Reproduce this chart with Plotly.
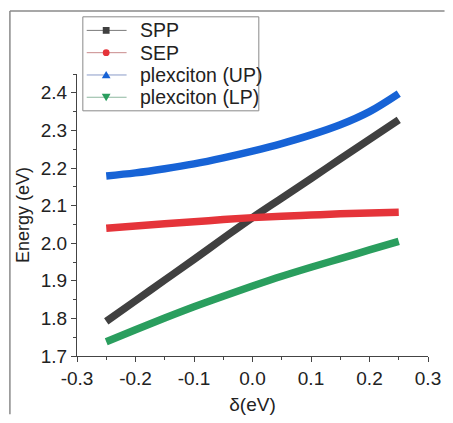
import plotly.graph_objects as go

delta = [-0.25, -0.2, -0.15, -0.1, -0.05, 0.0, 0.05, 0.1, 0.15, 0.2, 0.25]
spp = [1.792, 1.847, 1.902, 1.957, 2.013, 2.068, 2.120, 2.172, 2.224, 2.276, 2.328]
sep = [2.040, 2.046, 2.052, 2.057, 2.063, 2.068, 2.072, 2.075, 2.078, 2.080, 2.082]
up = [2.179, 2.187, 2.198, 2.211, 2.227, 2.245, 2.265, 2.288, 2.315, 2.350, 2.398]
lp = [1.738, 1.770, 1.801, 1.831, 1.859, 1.886, 1.912, 1.936, 1.959, 1.982, 2.005]

names = ["SPP", "SEP", "plexciton (UP)", "plexciton (LP)"]
series = [spp, sep, up, lp]
colors = ["#404040", "#e5343a", "#1763d6", "#2a9e5e"]
leg_lines = ["#7a7a7a", "#c98a8c", "#8a9cc8", "#8fb8a0"]
symbols = ["square", "circle", "triangle-up", "triangle-down"]

x_ticks = [-0.3, -0.2, -0.1, 0.0, 0.1, 0.2, 0.3]
x_ticktext = ["-0.3", "-0.2", "-0.1", "0.0", "0.1", "0.2", "0.3"]
y_ticks = [1.7, 1.8, 1.9, 2.0, 2.1, 2.2, 2.3, 2.4]
y_ticktext = ["1.7", "1.8", "1.9", "2.0", "2.1", "2.2", "2.3", "2.4"]

FONT = "Liberation Sans, Arial, sans-serif"

W, H = 453, 423
L, R, T, B = 77, 15, 74, 58
pw, ph = W - L - R, H - T - B

def px_x(p):
    return (p - L) / pw

def px_y(p):
    return (H - B - p) / ph

fig = go.Figure()
for name, ys, c in zip(names, series, colors):
    fig.add_trace(go.Scatter(x=delta, y=ys, mode="lines", name=name,
                             line=dict(color=c, width=7.5, shape="spline"),
                             showlegend=False))

# outer frame (top and left edges)
fig.add_shape(type="line", xref="paper", yref="paper",
              x0=px_x(8), x1=px_x(W + 2), y0=px_y(9), y1=px_y(9),
              line=dict(color="#8a8a8a", width=1.5))
fig.add_shape(type="line", xref="paper", yref="paper",
              x0=px_x(8), x1=px_x(8), y0=px_y(9), y1=px_y(H + 2),
              line=dict(color="#8a8a8a", width=1.5))

# manual legend
box = (83, 15, 264, 112)
fig.add_shape(type="rect", xref="paper", yref="paper",
              x0=px_x(box[0]), x1=px_x(box[2]), y0=px_y(box[1]), y1=px_y(box[3]),
              line=dict(color="#8a8a8a", width=1), fillcolor="white", layer="above")
rows = [29, 52, 75, 98]
for name, c, lc, s, ry in zip(names, colors, leg_lines, symbols, rows):
    fig.add_shape(type="line", xref="paper", yref="paper",
                  x0=px_x(87), x1=px_x(128), y0=px_y(ry), y1=px_y(ry),
                  line=dict(color=lc, width=1), layer="above")
    mx, r = 107, 3.5
    if s == "square":
        fig.add_shape(type="rect", xref="paper", yref="paper",
                      x0=px_x(mx - r), x1=px_x(mx + r), y0=px_y(ry - r), y1=px_y(ry + r),
                      line=dict(width=0), fillcolor=c, layer="above")
    elif s == "circle":
        fig.add_shape(type="circle", xref="paper", yref="paper",
                      x0=px_x(mx - r), x1=px_x(mx + r), y0=px_y(ry - r), y1=px_y(ry + r),
                      line=dict(width=0), fillcolor=c, layer="above")
    elif s == "triangle-up":
        path = "M {} {} L {} {} L {} {} Z".format(px_x(mx), px_y(ry - 4), px_x(mx - 4.5), px_y(ry + 3.5), px_x(mx + 4.5), px_y(ry + 3.5))
        fig.add_shape(type="path", xref="paper", yref="paper", path=path,
                      line=dict(width=0), fillcolor=c, layer="above")
    else:
        path = "M {} {} L {} {} L {} {} Z".format(px_x(mx), px_y(ry + 4), px_x(mx - 4.5), px_y(ry - 3.5), px_x(mx + 4.5), px_y(ry - 3.5))
        fig.add_shape(type="path", xref="paper", yref="paper", path=path,
                      line=dict(width=0), fillcolor=c, layer="above")
    fig.add_annotation(text=name, xref="paper", yref="paper", x=px_x(140), y=px_y(ry),
                       xanchor="left", yanchor="middle", showarrow=False,
                       font=dict(family=FONT, size=19.5, color="#222"))

fig.update_layout(
    width=W, height=H,
    margin=dict(l=L, r=R, t=T, b=B),
    paper_bgcolor="white", plot_bgcolor="white",
    font=dict(family=FONT, size=19, color="#222"),
    showlegend=False,
    xaxis=dict(range=[-0.3, 0.3], tickmode="array", tickvals=x_ticks, ticktext=x_ticktext,
               showline=True, linecolor="#444", linewidth=1.2, mirror=False,
               ticks="outside", ticklen=5, tickcolor="#444", tickwidth=1.2,
               minor=dict(ticks="outside", ticklen=3, tickcolor="#444", dtick=0.05, tick0=-0.3, showgrid=False),
               showgrid=False, zeroline=False, tickfont=dict(size=19),
               title=dict(text="δ(eV)", standoff=9, font=dict(size=19))),
    yaxis=dict(range=[1.7, 2.45], tickmode="array", tickvals=y_ticks, ticktext=y_ticktext,
               showline=True, linecolor="#444", linewidth=1.2, mirror=False,
               ticks="outside", ticklen=5, tickcolor="#444", tickwidth=1.2,
               minor=dict(ticks="outside", ticklen=3, tickcolor="#444", dtick=0.05, tick0=1.7, showgrid=False),
               showgrid=False, zeroline=False, tickfont=dict(size=19),
               title=dict(text="Energy (eV)", standoff=6, font=dict(size=18))),
)

fig.write_html("out.html")
